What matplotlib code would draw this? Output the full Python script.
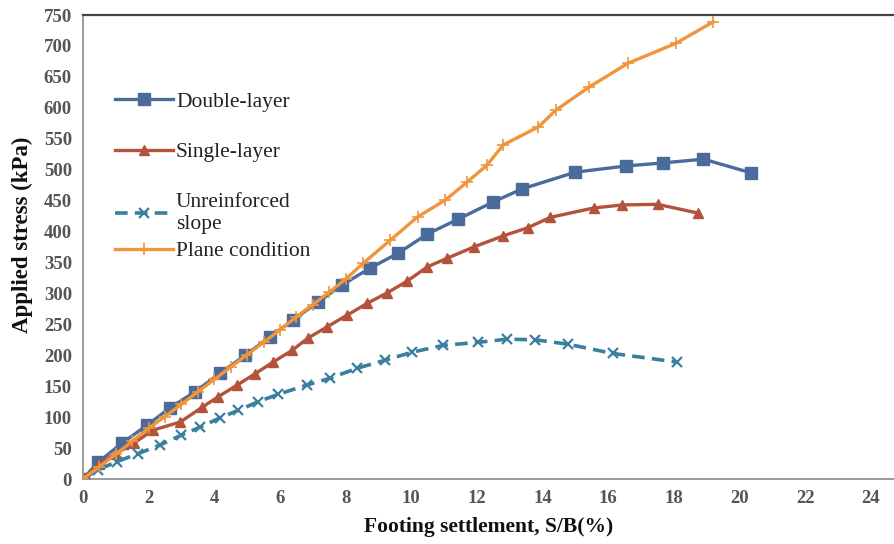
import matplotlib
matplotlib.use("Agg")
import matplotlib.pyplot as plt

# ── data (S/B in %, stress in kPa) ─────────────────────────────────────────
double_x = [0, 0.46, 1.19, 1.95, 2.65, 3.41, 4.18, 4.94, 5.70, 6.40, 7.16,
            7.90, 8.75, 9.60, 10.49, 11.43, 12.50, 13.38, 15.0, 16.55,
            17.68, 18.90, 20.34]
double_y = [0, 27, 58, 87, 115, 141, 171, 200, 230, 257, 286,
            314, 341, 365, 396, 420, 448, 469, 496, 506,
            511, 517, 495]

single_x = [0, 0.5, 1.0, 1.55, 2.13, 2.96, 3.63, 4.12, 4.70, 5.24, 5.79,
            6.37, 6.86, 7.44, 8.05, 8.66, 9.27, 9.88, 10.49, 11.10, 11.90,
            12.80, 13.54, 14.24, 15.55, 16.43, 17.50, 18.72]
single_y = [0, 24, 41, 58, 79, 92, 116, 133, 152, 170, 189,
            208, 228, 246, 265, 284, 301, 320, 343, 357, 375,
            393, 406, 423, 438, 443, 444, 430]

unrein_x = [0, 0.46, 1.03, 1.68, 2.35, 3.0, 3.57, 4.18, 4.73, 5.34, 5.95,
            6.83, 7.53, 8.35, 9.20, 10.03, 10.98, 12.04, 12.93, 13.78,
            14.76, 16.13, 18.10]
unrein_y = [0, 15, 28, 41, 55, 71, 84, 99, 111, 125, 137,
            152, 163, 179, 192, 205, 216, 221, 226, 225,
            218, 203, 189]

plane_x = [0, 0.5, 1.0, 1.5, 2.0, 2.5, 3.0, 3.5, 4.0, 4.5, 5.0, 5.5, 6.0,
           6.5, 7.0, 7.5, 8.0, 8.54, 9.36, 10.2, 11.04, 11.7, 12.3, 12.8,
           13.87, 14.4, 15.4, 16.6, 18.05, 19.2]
plane_y = [0, 20, 40, 61, 82, 101, 121, 141, 161, 181, 201, 221, 241,
           262, 282, 302, 323, 349, 386, 424, 451, 480, 507, 540,
           569, 596, 633, 672, 704, 739]

x_ticks = list(range(0, 25, 2))
y_ticks = list(range(0, 751, 50))

C_DOUBLE = "#4a6b9b"
C_SINGLE = "#b4533b"
C_UNREIN = "#3b7fa0"
C_PLANE = "#f0953c"

plt.rcParams["font.family"] = ["Liberation Serif", "DejaVu Serif"]

fig = plt.figure(figsize=(8.95, 5.44), dpi=100)
ax = fig.add_axes([83 / 895, 65 / 544, 812 / 895, 464 / 544])

l_double, = ax.plot(double_x, double_y, color=C_DOUBLE, lw=2.4, marker="s",
                    ms=8, label="Double-layer", zorder=3)
l_single, = ax.plot(single_x, single_y, color=C_SINGLE, lw=2.4, marker="^",
                    ms=7.5, label="Single-layer", zorder=3)
l_unrein, = ax.plot(unrein_x, unrein_y, color=C_UNREIN, lw=2.6,
                    dashes=(3.5, 2), marker="x", ms=7, mew=1.6,
                    label="Unreinforced\nslope", zorder=3)
l_plane, = ax.plot(plane_x, plane_y, color=C_PLANE, lw=2.4, marker="+",
                   ms=9, mew=1.2, label="Plane condition", zorder=4)

ax.set_xlim(0, 812 / 32.83)
ax.set_ylim(0, 750)
ax.set_xticks(x_ticks)
ax.set_yticks(y_ticks)
ax.tick_params(length=0, labelsize=13.5, colors="#555555", pad=8)
for lab in ax.get_xticklabels() + ax.get_yticklabels():
    lab.set_fontweight("bold")

for side in ("left", "bottom"):
    ax.spines[side].set_color("#9a9a9a")
    ax.spines[side].set_linewidth(1.4)
ax.spines["top"].set_color("#444444")
ax.spines["top"].set_linewidth(1.6)
ax.spines["right"].set_visible(False)

ax.set_xlabel("Footing settlement, S/B(%)", fontsize=15.5, fontweight="bold",
              color="#111111", labelpad=7)
ax.set_ylabel("Applied stress (kPa)", fontsize=16.5, fontweight="bold",
              color="#111111")
ax.yaxis.set_label_coords(-0.062, 0.526)

leg_kw = dict(loc="upper left", frameon=False, fontsize=15.5, borderpad=0,
              borderaxespad=0, handlelength=2.7, handletextpad=0.15,
              labelcolor="#222222")
leg1 = ax.legend(handles=[l_double, l_single, l_unrein],
                 bbox_to_anchor=(0.039, 0.835), labelspacing=1.43, **leg_kw)
ax.add_artist(leg1)
ax.legend(handles=[l_plane], bbox_to_anchor=(0.039, 0.513), **leg_kw)

fig.savefig("out.png", dpi=100, facecolor="white")
